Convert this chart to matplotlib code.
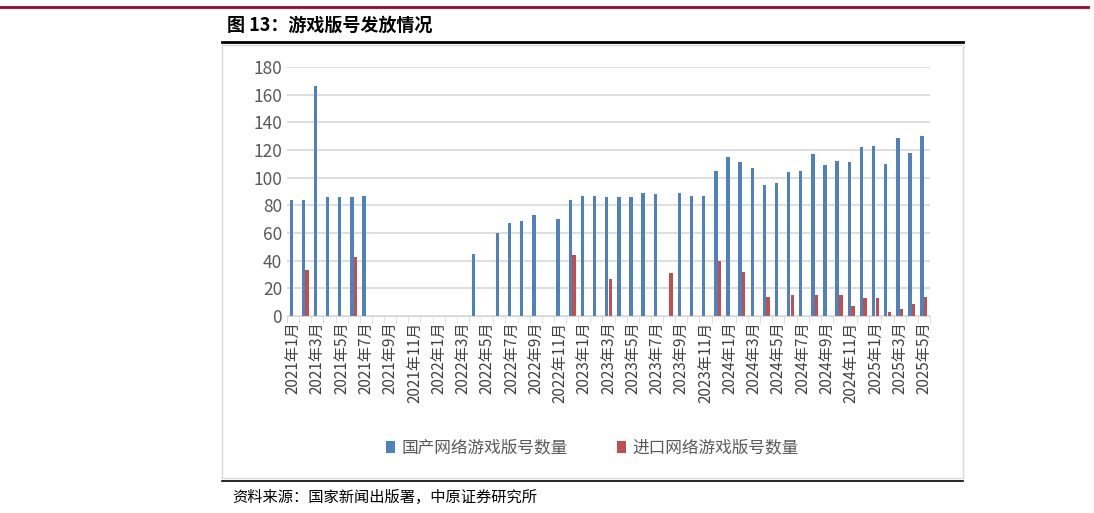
import matplotlib
matplotlib.use("Agg")
import matplotlib.pyplot as plt
import numpy as np

plt.rcParams['font.family'] = ['Noto Sans CJK SC', 'DejaVu Sans']

months = [f"{y}年{m}月" for y in range(2021, 2026) for m in range(1, 13)][:53]
domestic = [84, 84, 166, 86, 86, 86, 87, 0, 0, 0, 0, 0,
            0, 0, 0, 45, 0, 60, 67, 69, 73, 0, 70, 84,
            87, 87, 86, 86, 86, 89, 88, 0, 89, 87, 87, 105,
            115, 111, 107, 95, 96, 104, 105, 117, 109, 112, 111, 122,
            123, 110, 129, 118, 130]
imported = [0, 33, 0, 0, 0, 43, 0, 0, 0, 0, 0, 0,
            0, 0, 0, 0, 0, 0, 0, 0, 0, 0, 0, 44,
            0, 0, 27, 0, 0, 0, 0, 31, 0, 0, 0, 40,
            0, 32, 0, 14, 0, 15, 0, 15, 0, 15, 7, 13,
            13, 3, 5, 9, 14]

fig = plt.figure(figsize=(10.94, 5.13), dpi=100)
W, H = 1094, 513
ax = fig.add_axes([287/W, 1-316/H, (930-287)/W, (316-67)/H])
x = np.arange(len(months))
w = 0.28
ax.bar(x - 0.15, domestic, w, color='#4f81bd', label='国产网络游戏版号数量')
ax.bar(x + 0.15, imported, w, color='#c0504d', label='进口网络游戏版号数量')
ax.set_xlim(-0.5, len(months) - 0.5)
ax.set_ylim(0, 180)
ax.set_yticks(range(0, 181, 20))
ax.tick_params(axis='y', length=0, labelsize=12.5, colors='#595959')
ax.set_xticks(x[::2])
ax.set_xticklabels(months[::2], rotation=90, fontsize=11, color='#404040')
ax.set_xticks(np.arange(-0.5, len(months), 1), minor=True)
ax.tick_params(axis='x', which='major', length=0, pad=4)
ax.tick_params(axis='x', which='minor', length=5, color='#d9d9d9')
ax.grid(axis='y', color='#d9d9d9', linewidth=1.2)
ax.set_axisbelow(True)
for s in ['top', 'right', 'left']:
    ax.spines[s].set_visible(False)
ax.spines['bottom'].set_color('#d9d9d9')
ax.legend(loc='center', bbox_to_anchor=(0.475, 1 - (448-67)/(316-67)),
          ncol=2, frameon=False, fontsize=12, handlelength=0.5, handletextpad=0.4, columnspacing=3,
          labelcolor='#595959')

fig.add_artist(plt.Rectangle((222/W, 1-478/H), (963-222)/W, (478-45)/H, fill=False,
                             edgecolor='#d9d9d9', linewidth=1, transform=fig.transFigure))
fig.add_artist(plt.Line2D([0.0, 1088/W], [1-7/H, 1-7/H], color='#a50021', linewidth=2, transform=fig.transFigure))
fig.add_artist(plt.Line2D([222/W, 963/W], [1-42/H, 1-42/H], color='black', linewidth=2, transform=fig.transFigure))
fig.add_artist(plt.Line2D([222/W, 963/W], [1-481/H, 1-481/H], color='black', linewidth=1.2, transform=fig.transFigure))
fig.text(227/W, 1-25/H, '图 13：游戏版号发放情况', fontsize=13, fontweight='bold', va='center', ha='left')
fig.text(232/W, 1-497/H, '资料来源：国家新闻出版署，中原证券研究所', fontsize=11, va='center', ha='left')

fig.savefig('out.png', dpi=100)
